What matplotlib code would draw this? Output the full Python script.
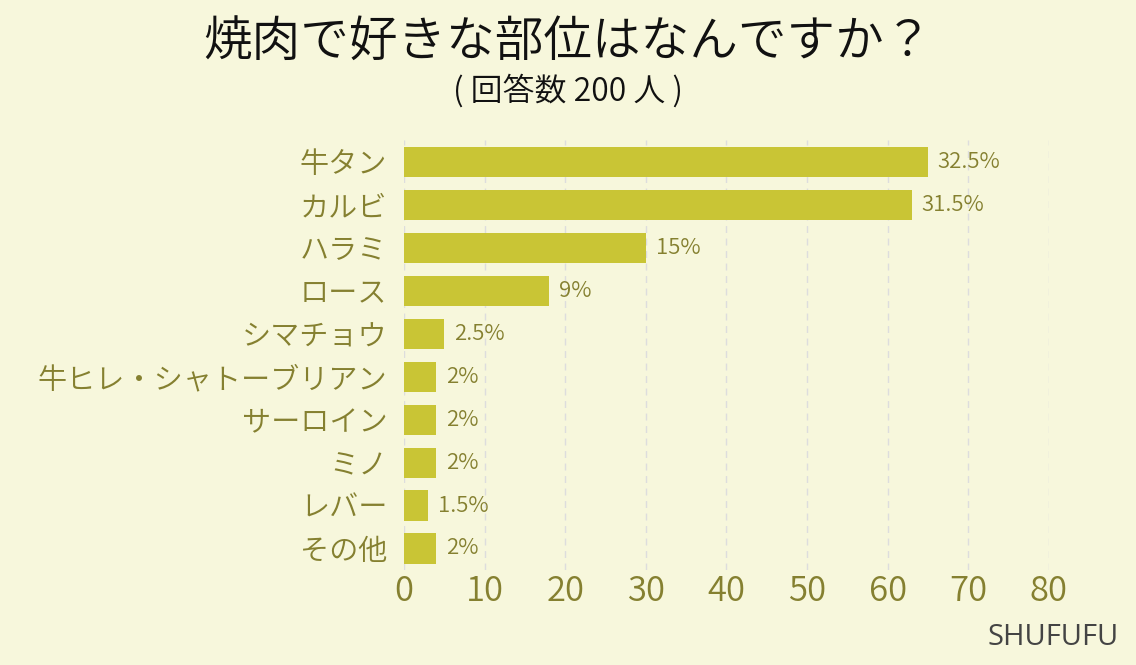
import matplotlib
matplotlib.use("Agg")
import matplotlib.pyplot as plt
import numpy as np

plt.rcParams['font.family'] = ['Noto Sans CJK JP', 'DejaVu Sans']

# data (200 respondents)
parts = ["牛タン", "カルビ", "ハラミ", "ロース", "シマチョウ",
         "牛ヒレ・シャトーブリアン", "サーロイン", "ミノ", "レバー", "その他"]
counts = [65, 63, 30, 18, 5, 4, 4, 4, 3, 4]
pct_labels = ["32.5%", "31.5%", "15%", "9%", "2.5%", "2%", "2%", "2%", "1.5%", "2%"]
xticks = [0, 10, 20, 30, 40, 50, 60, 70, 80]

bg = "#f7f7dc"
bar_col = "#c9c535"
txt_col = "#858030"

fig = plt.figure(figsize=(11.36, 6.65), dpi=100, facecolor=bg)
ax = fig.add_axes([0.3556, 0.1429, 0.5678, 0.6461])
ax.set_facecolor(bg)

y = np.arange(len(parts))
ax.barh(y, counts, height=0.7, color=bar_col, zorder=3)
for yi, c, lab in zip(y, counts, pct_labels):
    ax.text(c + 1.2, yi, lab, va="center", ha="left", fontsize=16,
            color=txt_col, fontweight=350)

ax.set_ylim(len(parts) - 0.5, -0.5)
ax.set_xlim(0, 80)
ax.set_yticks(y)
ax.set_yticklabels(parts, fontsize=21, color=txt_col, fontweight=350)
ax.set_xticks(xticks)
ax.set_xticklabels([str(t) for t in xticks], fontsize=25, color=txt_col,
                   fontweight=350)
ax.tick_params(axis="both", length=0, pad=3)
ax.tick_params(axis="y", pad=12)
ax.grid(axis="x", color="#dddddd", linestyle=(0, (5, 4)), linewidth=1, zorder=0)
for s in ax.spines.values():
    s.set_visible(False)

fig.text(0.5, 0.935, "焼肉で好きな部位はなんですか？", ha="center", va="center",
         fontsize=35, color="#111111", fontweight=350)
fig.text(0.5, 0.862, "( 回答数 200 人 )", ha="center", va="center",
         fontsize=23, color="#111111", fontweight=350)
fig.text(0.985, 0.042, "SHUFUFU", ha="right", va="center", fontsize=21,
         color="#444444", family=["Open Sans", "DejaVu Sans"])

fig.savefig("out.png", dpi=100, facecolor=bg)
